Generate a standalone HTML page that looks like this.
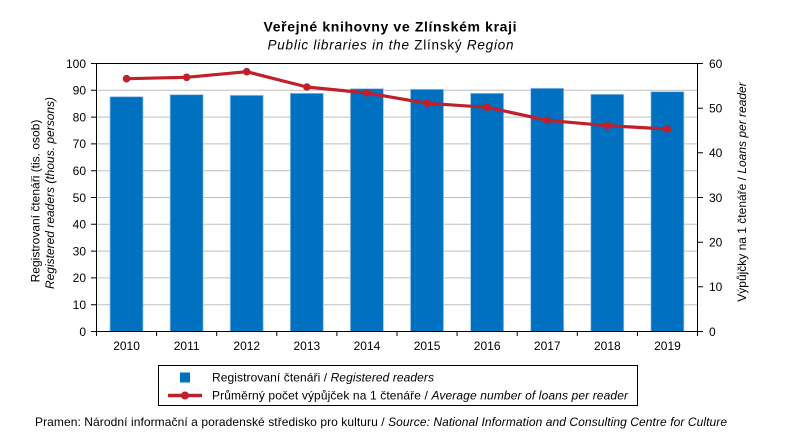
<!DOCTYPE html>
<html><head><meta charset="utf-8"><style>
html,body{margin:0;padding:0;background:#fff;}
svg{display:block;}
text{font-family:"Liberation Sans",Arial,sans-serif;fill:#000;}
</style></head><body>
<svg width="797" height="448" viewBox="0 0 797 448" xmlns="http://www.w3.org/2000/svg">
<rect width="797" height="448" fill="#fff"/>
<!-- title -->
<text x="263.5" y="31.7" font-size="14" font-weight="bold" textLength="253" lengthAdjust="spacing">Veřejné knihovny ve Zlínském kraji</text>
<text x="267.5" y="49.3" font-size="13.5" textLength="246" lengthAdjust="spacing"><tspan font-style="italic">Public libraries in the </tspan>Zlínský<tspan font-style="italic"> Region</tspan></text>
<!-- gridlines -->
<g stroke="#BFBFBF" stroke-width="1">
<line x1="96.5" x2="697.5" y1="90.3" y2="90.3"/>
<line x1="96.5" x2="697.5" y1="117.1" y2="117.1"/>
<line x1="96.5" x2="697.5" y1="143.9" y2="143.9"/>
<line x1="96.5" x2="697.5" y1="170.7" y2="170.7"/>
<line x1="96.5" x2="697.5" y1="197.5" y2="197.5"/>
<line x1="96.5" x2="697.5" y1="224.3" y2="224.3"/>
<line x1="96.5" x2="697.5" y1="251.1" y2="251.1"/>
<line x1="96.5" x2="697.5" y1="277.9" y2="277.9"/>
<line x1="96.5" x2="697.5" y1="304.7" y2="304.7"/>
</g>
<!-- bars -->
<g fill="#0070C0" stroke="#9DC3E6" stroke-width="0.8">
<rect x="110" y="96.7" width="33" height="234.8"/>
<rect x="170.1" y="94.7" width="33" height="236.8"/>
<rect x="230.2" y="95.3" width="33" height="236.2"/>
<rect x="290.3" y="93.3" width="33" height="238.2"/>
<rect x="350.4" y="88.7" width="33" height="242.8"/>
<rect x="410.5" y="89.3" width="33" height="242.2"/>
<rect x="470.6" y="93.3" width="33" height="238.2"/>
<rect x="530.7" y="88.3" width="33" height="243.2"/>
<rect x="590.8" y="94.3" width="33" height="237.2"/>
<rect x="650.9" y="91.7" width="33" height="239.8"/>
</g>
<!-- axes -->
<g stroke="#000" stroke-width="1" fill="none">
<rect x="96.5" y="63.5" width="601" height="268"/>
<path d="M91 63.5H96.5M91 90.3H96.5M91 117.1H96.5M91 143.9H96.5M91 170.7H96.5M91 197.5H96.5M91 224.3H96.5M91 251.1H96.5M91 277.9H96.5M91 304.7H96.5M91 331.5H96.5"/>
<path d="M697.5 63.5H703M697.5 108.2H703M697.5 152.8H703M697.5 197.5H703M697.5 242.2H703M697.5 286.8H703M697.5 331.5H703"/>
<path d="M96.5 331.5V336M156.6 331.5V336M216.7 331.5V336M276.8 331.5V336M336.9 331.5V336M397 331.5V336M457.1 331.5V336M517.2 331.5V336M577.3 331.5V336M637.4 331.5V336M697.5 331.5V336"/>
</g>
<!-- line series -->
<polyline fill="none" stroke="#C0202A" stroke-width="3.2" stroke-linejoin="round" points="126.55,78.7 186.65,77.3 246.75,71.7 306.85,87 366.95,93 427.05,103.3 487.15,107.3 547.25,120.3 607.35,125.7 667.45,129"/>
<g fill="#C0202A">
<circle cx="126.55" cy="78.7" r="3.8"/>
<circle cx="186.65" cy="77.3" r="3.8"/>
<circle cx="246.75" cy="71.7" r="3.8"/>
<circle cx="306.85" cy="87" r="3.8"/>
<circle cx="366.95" cy="93" r="3.8"/>
<circle cx="427.05" cy="103.3" r="3.8"/>
<circle cx="487.15" cy="107.3" r="3.8"/>
<circle cx="547.25" cy="120.3" r="3.8"/>
<circle cx="607.35" cy="125.7" r="3.8"/>
<circle cx="667.45" cy="129" r="3.8"/>
</g>
<!-- left tick labels -->
<g font-size="12" text-anchor="end">
<text x="86" y="67.8">100</text>
<text x="86" y="94.6">90</text>
<text x="86" y="121.4">80</text>
<text x="86" y="148.2">70</text>
<text x="86" y="175">60</text>
<text x="86" y="201.8">50</text>
<text x="86" y="228.6">40</text>
<text x="86" y="255.4">30</text>
<text x="86" y="282.2">20</text>
<text x="86" y="309">10</text>
<text x="86" y="335.8">0</text>
</g>
<!-- right tick labels -->
<g font-size="12" text-anchor="start">
<text x="709" y="67.8">60</text>
<text x="709" y="112.5">50</text>
<text x="709" y="157.1">40</text>
<text x="709" y="201.8">30</text>
<text x="709" y="246.5">20</text>
<text x="709" y="291.1">10</text>
<text x="709" y="335.8">0</text>
</g>
<!-- x labels -->
<g font-size="12" text-anchor="middle">
<text x="126.55" y="350">2010</text>
<text x="186.65" y="350">2011</text>
<text x="246.75" y="350">2012</text>
<text x="306.85" y="350">2013</text>
<text x="366.95" y="350">2014</text>
<text x="427.05" y="350">2015</text>
<text x="487.15" y="350">2016</text>
<text x="547.25" y="350">2017</text>
<text x="607.35" y="350">2018</text>
<text x="667.45" y="350">2019</text>
</g>
<!-- left axis title -->
<text font-size="12" text-anchor="middle" transform="translate(39.5,201) rotate(-90)">Registrovaní čtenáři (tis. osob)</text>
<text font-size="12" font-style="italic" text-anchor="middle" transform="translate(54,193) rotate(-90)">Registered readers (thous. persons)</text>
<!-- right axis title -->
<text font-size="12" text-anchor="middle" transform="translate(746,192) rotate(-90)">Výpůjčky na 1 čtenáře / <tspan font-style="italic">Loans per reader</tspan></text>
<!-- legend -->
<rect x="158.5" y="365.5" width="479" height="40" fill="none" stroke="#000" stroke-width="1"/>
<rect x="180" y="372.5" width="10" height="10" fill="#0070C0"/>
<line x1="168" x2="202" y1="395.5" y2="395.5" stroke="#C0202A" stroke-width="3.5"/>
<circle cx="185" cy="395.5" r="4" fill="#C0202A"/>
<text x="212" y="381.5" font-size="12" textLength="222" lengthAdjust="spacing">Registrovaní čtenáři / <tspan font-style="italic">Registered readers</tspan></text>
<text x="212" y="399.5" font-size="12" textLength="416" lengthAdjust="spacing">Průměrný počet výpůjček na 1 čtenáře / <tspan font-style="italic">Average number of loans per reader</tspan></text>
<!-- source -->
<text x="35" y="426" font-size="12" textLength="692" lengthAdjust="spacing">Pramen: Národní informační a poradenské středisko pro kulturu / <tspan font-style="italic">Source: National Information and Consulting Centre for Culture</tspan></text>
</svg>
</body></html>
